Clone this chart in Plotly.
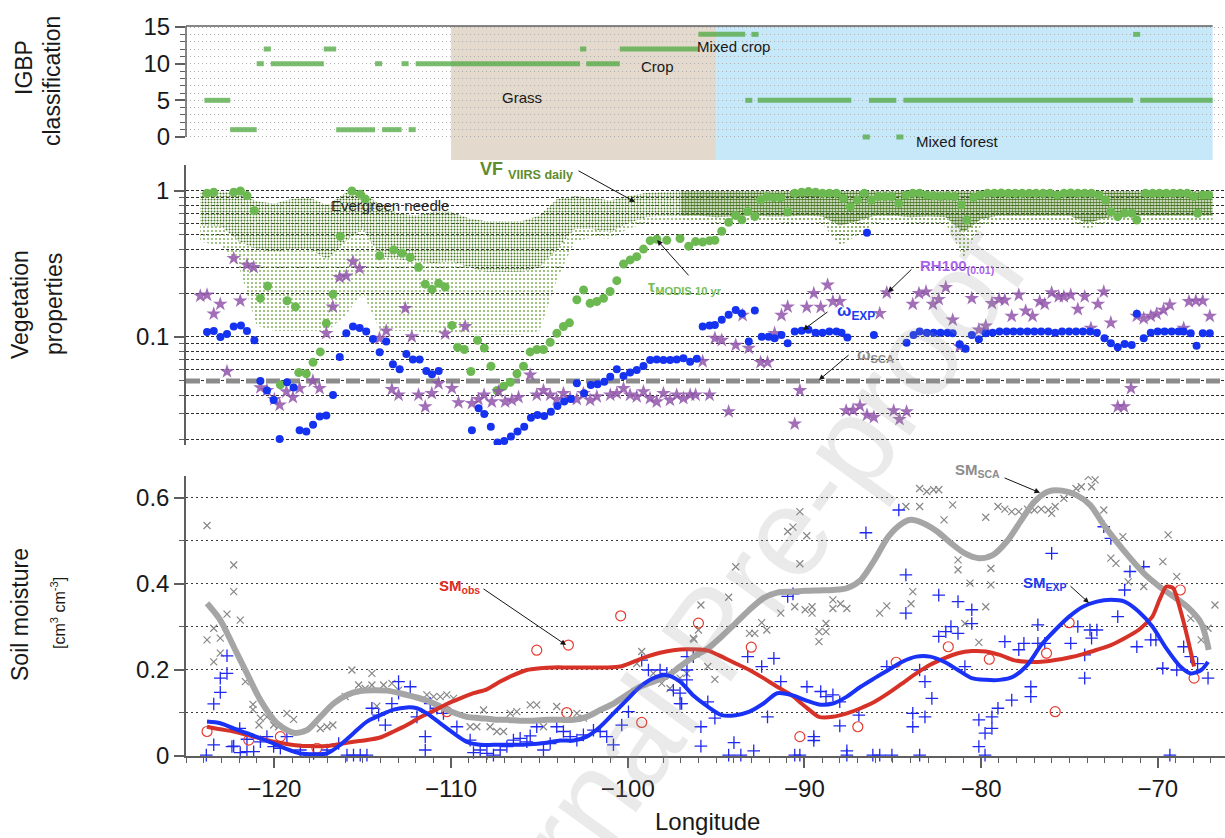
import math
import plotly.graph_objects as go

# ======================= DATA =======================
# --- IGBP classification segments (top panel) ---
igbp_start = [-123.96, -122.5, -121.0, -120.6, -120.2, -117.2, -116.5, -114.3, -113.9, -112.8,
              -112.4, -112.0, -102.7, -102.35, -100.45, -96.0, -93.35, -93.0, -92.65, -86.7,
              -86.35, -84.8, -84.4, -71.4, -71.0]
igbp_end = [-122.5, -121.0, -120.6, -120.2, -117.2, -116.5, -114.3, -113.9, -112.8, -112.4,
            -112.0, -102.7, -102.35, -100.45, -96.0, -93.35, -92.95, -92.6, -87.35, -86.3,
            -84.8, -84.4, -71.4, -71.0, -66.9]
igbp_class = [5, 1, 10, 12, 10, 12, 1, 10, 1, 10,
              1, 10, 12, 10, 12, 14, 5, 14, 5, 0,
              5, 0, 5, 14, 5]
zone_bounds = [-110.0, -95.0, -66.9]          # grass zone, forest zone
zone_colors = ["#e3d9cc", "#c6e8f9"]
igbp_labels = ["Mixed crop", "Crop", "Grass", "Mixed forest"]

# --- VIIRS daily vegetation fraction envelope (middle panel) ---
viirs_lon = [-124.2, -123, -122, -121, -120, -119, -118, -117, -116, -115,
             -114, -113, -112, -111, -110, -109, -108, -107, -106, -105,
             -104, -103, -102, -101, -100, -99, -98,
             -97, -96, -95, -94, -93, -92, -91, -90, -89, -88,
             -87, -86, -85, -84, -83, -82, -81, -80, -79, -78,
             -77, -76, -75, -74, -73, -72, -71, -70, -69, -68,
             -66.9]
viirs_hi = [0.99, 0.99, 0.97, 0.85, 0.82, 0.88, 0.90, 0.80, 0.97, 0.99,
            0.80, 0.70, 0.68, 0.72, 0.72, 0.65, 0.62, 0.62, 0.62, 0.68,
            0.88, 0.92, 0.90, 0.86, 0.92, 0.97, 0.98,
            1.0, 1.0, 1.0, 1.0, 1.0, 1.0, 1.0, 1.0, 1.0, 1.0,
            1.0, 1.0, 1.0, 1.0, 1.0, 1.0, 1.0, 1.0, 1.0, 1.0,
            1.0, 1.0, 1.0, 1.0, 1.0, 1.0, 1.0, 1.0, 1.0, 1.0,
            1.0]
viirs_core = [0.58, 0.57, 0.45, 0.40, 0.38, 0.40, 0.40, 0.34, 0.45, 0.55,
              0.36, 0.34, 0.33, 0.32, 0.33, 0.30, 0.28, 0.28, 0.28, 0.30,
              0.40, 0.55, 0.55, 0.52, 0.60, 0.66, 0.68,
              0.68, 0.68, 0.66, 0.67, 0.68, 0.67, 0.67, 0.68, 0.67, 0.58,
              0.62, 0.68, 0.68, 0.66, 0.67, 0.66, 0.52, 0.64, 0.68, 0.68,
              0.68, 0.68, 0.68, 0.60, 0.65, 0.68, 0.68, 0.68, 0.68, 0.68,
              0.68]
viirs_lo = [0.45, 0.42, 0.30, 0.12, 0.11, 0.11, 0.11, 0.11, 0.14, 0.20,
            0.11, 0.11, 0.11, 0.106, 0.106, 0.104, 0.104, 0.104, 0.104, 0.11,
            0.25, 0.45, 0.48, 0.47, 0.55, 0.60, 0.62,
            0.62, 0.62, 0.60, 0.62, 0.62, 0.62, 0.60, 0.62, 0.60, 0.42,
            0.50, 0.60, 0.62, 0.60, 0.60, 0.60, 0.35, 0.58, 0.62, 0.62,
            0.62, 0.62, 0.62, 0.55, 0.60, 0.62, 0.62, 0.62, 0.62, 0.62,
            0.62]
viirs_dense_from = -97   # east of this longitude the VIIRS cloud is dense

# --- MODIS 10-yr tau ---
modis_lon = [-123.81, -123.43, -122.30, -121.92, -121.55, -121.13, -120.79, -120.38, -119.66, -119.28,
             -118.81, -118.62, -118.19, -117.81, -117.40, -117.06, -116.68, -116.27, -115.61, -115.14,
             -114.85, -114.04, -113.25, -112.78, -112.31, -111.84, -111.46, -111.08, -110.70, -110.33,
             -109.95, -109.63, -109.25, -108.88, -108.50, -108.12, -107.74, -107.40, -107.03, -106.65,
             -106.27, -105.90, -105.52, -105.14, -104.77, -104.39, -104.01, -103.64, -103.30, -102.88,
             -102.50, -102.13, -101.75, -101.37, -101.00, -100.62, -100.24, -99.86, -99.49, -99.11,
             -98.73, -98.35, -97.79, -97.04, -96.55, -96.16, -95.76, -95.37, -95.07, -94.68,
             -94.29, -93.90, -93.54, -93.21, -92.81, -92.48, -92.13, -91.73, -91.34, -90.95,
             -90.55, -90.16, -89.77, -89.37, -88.98, -88.59, -88.19, -87.80, -87.41, -87.01,
             -86.62, -86.23, -85.83, -85.44, -85.05, -84.66, -84.26, -83.87, -83.48, -83.08,
             -82.69, -82.30, -81.90, -81.51, -81.12, -80.82, -80.43, -80.04, -79.64, -79.25,
             -78.86, -78.46, -78.07, -77.68, -77.28, -76.89, -76.50, -76.10, -75.71, -75.32,
             -74.93, -74.53, -74.14, -73.75, -73.35, -72.96, -72.66, -72.27, -71.88, -71.48,
             -71.19, -70.70, -70.30, -69.91, -69.52, -69.13, -68.73, -68.34, -67.95, -67.75,
             -67.46, -67.12]
modis_val = [0.964, 0.98, 0.98, 1.0, 0.93, 0.733, 0.184, 0.223, 0.047, 0.177,
             0.161, 0.057, 0.056, 0.067, 0.079, 0.124, 0.196, 0.49, 1.0, 0.95,
             0.88, 0.36, 0.395, 0.375, 0.35, 0.30, 0.23, 0.212, 0.233, 0.22,
             0.12, 0.085, 0.082, 0.058, 0.095, 0.084, 0.063, 0.043, 0.046, 0.049,
             0.056, 0.063, 0.079, 0.082, 0.082, 0.092, 0.106, 0.118, 0.125, 0.18,
             0.21, 0.17, 0.175, 0.184, 0.205, 0.243, 0.316, 0.337, 0.355, 0.40,
             0.457, 0.467, 0.46, 0.473, 0.419, 0.45, 0.447, 0.457, 0.46, 0.53,
             0.61, 0.68, 0.635, 0.725, 0.67, 0.87, 0.914, 0.90, 0.90, 0.72,
             0.964, 0.98, 0.99, 0.98, 0.964, 0.964, 0.964, 0.891, 0.781, 0.868,
             0.964, 0.868, 0.915, 0.915, 0.915, 0.823, 0.939, 0.964, 0.964, 0.939,
             0.925, 0.915, 0.925, 0.915, 0.802, 0.633, 0.905, 0.939, 0.964, 0.964,
             0.97, 0.964, 0.964, 0.964, 0.964, 0.964, 0.964, 0.964, 0.939, 0.964,
             0.97, 0.964, 0.964, 0.964, 0.939, 0.868, 0.722, 0.667, 0.703, 0.703,
             0.633, 0.964, 0.964, 0.964, 0.964, 0.964, 0.964, 0.964, 0.915, 0.703,
             0.939, 0.939]

# --- omega EXP ---
wexp_lon = [-123.81, -123.43, -123.05, -122.68, -122.30, -121.89, -121.55, -121.13,
            -120.79, -120.42, -120.04, -119.70, -119.28, -118.91, -118.57, -118.19, -117.81, -117.43,
            -117.06, -116.68, -116.30, -115.93, -115.55, -115.17, -114.80, -114.42, -114.04, -113.67,
            -113.29, -112.91, -112.53, -112.16, -111.78, -111.40, -111.08, -110.70,
            -108.82, -108.44, -108.12, -107.75, -107.37, -106.99, -106.61, -106.24, -105.86, -105.48,
            -105.11, -104.73, -104.35, -103.98, -103.60, -103.22, -102.88, -102.47, -102.09, -101.71,
            -101.33, -100.99, -100.62, -100.24, -99.87, -99.49, -99.11, -98.73, -98.36, -97.98,
            -97.60, -97.23, -96.85, -96.47, -96.09,
            -95.76, -95.37, -95.07, -94.68, -94.29, -93.89, -93.54, -93.15, -92.81, -92.42,
            -92.03, -91.69, -91.30, -90.95, -90.55, -90.16, -89.77, -89.37, -88.98, -88.59,
            -88.19, -87.90, -87.57, -86.46, -86.07, -84.22, -83.83, -83.48, -83.08, -82.69,
            -82.30, -81.90, -81.61, -81.22, -80.88, -80.53, -80.13, -79.74,
            -79.35, -78.96, -78.56, -78.17, -77.78, -77.38, -76.99, -76.60, -76.20, -75.81,
            -75.42, -75.02, -74.63, -74.24, -73.84, -73.45,
            -73.02, -72.66, -72.27, -71.88, -71.48, -71.19, -70.80, -70.40, -70.01, -69.62,
            -69.22, -68.83, -68.54, -68.14, -67.81, -67.46, -67.06]
wexp_val = [0.108, 0.110, 0.100, 0.105, 0.118, 0.120, 0.110, 0.095,
            0.050, 0.043, 0.037, 0.020, 0.049, 0.045, 0.023, 0.0225, 0.025, 0.0285,
            0.029, 0.040, 0.073, 0.106, 0.118, 0.115, 0.109, 0.097, 0.0785, 0.093,
            0.065, 0.060, 0.0765, 0.070, 0.070, 0.0585, 0.0555, 0.0585,
            0.023, 0.0325, 0.0297, 0.0243, 0.0189, 0.0194, 0.0208, 0.0225, 0.0243, 0.028,
            0.0292, 0.0288, 0.0308, 0.0337, 0.0361, 0.0376, 0.0482, 0.0411, 0.0469, 0.0474,
            0.0494, 0.0535, 0.0601, 0.0541, 0.057, 0.0594, 0.0633, 0.0696, 0.070, 0.0696,
            0.0696, 0.070, 0.0715, 0.0677, 0.0708,
            0.118, 0.120, 0.121, 0.131, 0.142, 0.153, 0.145, 0.093, 0.152, 0.1005,
            0.1005, 0.098, 0.103, 0.0905, 0.109, 0.1105, 0.112, 0.107, 0.107, 0.109,
            0.109, 0.107, 0.099, 0.518, 0.103, 0.0914, 0.103, 0.109, 0.107, 0.107,
            0.107, 0.107, 0.106, 0.089, 0.083, 0.103, 0.0964, 0.106,
            0.107, 0.109, 0.109, 0.109, 0.109, 0.109, 0.109, 0.109, 0.109, 0.107,
            0.109, 0.109, 0.109, 0.109, 0.109, 0.107,
            0.098, 0.0905, 0.085, 0.0895, 0.088, 0.144, 0.098, 0.107, 0.109, 0.109,
            0.109, 0.109, 0.109, 0.106, 0.087, 0.106, 0.106]

# --- RH100 (0.01) ---
rh_lon = [-124.19, -123.81, -123.43, -123.06, -122.68, -122.30, -121.93, -121.55, -121.17, -120.79,
          -120.42, -120.00, -119.70, -119.32, -118.95, -118.57, -117.82, -117.44, -117.06, -116.69,
          -116.31, -115.93, -115.55, -115.18, -114.05, -113.67, -113.35, -112.97, -112.59, -112.22,
          -111.84, -111.46, -111.09, -110.71, -110.33, -109.95, -109.58, -109.20, -108.82, -108.45,
          -108.13, -107.69, -107.31, -106.94, -106.56, -106.18, -105.52, -105.15, -104.77, -104.39,
          -104.02, -103.64, -103.26, -102.88, -102.51, -102.13, -101.75, -100.99, -100.62, -100.24,
          -99.87, -99.49, -99.11, -98.74, -98.36, -97.98, -97.61, -97.23, -96.85, -96.47,
          -96.16, -95.76, -95.37, -95.07, -94.68, -94.29, -93.89, -93.50, -93.15, -92.48,
          -92.09, -91.69, -91.30, -90.95, -90.55, -90.26, -89.87, -89.47, -89.08, -88.69,
          -88.39, -88.00, -87.64, -87.25, -86.86, -86.46, -86.07, -85.74, -85.34, -84.95,
          -84.62, -84.22, -83.87, -83.52, -83.12, -82.73, -82.40, -82.00, -81.61, -81.22,
          -80.53, -80.13, -79.74, -79.39, -78.99, -78.66, -78.27, -77.87, -77.48, -77.09,
          -76.69, -76.40, -76.01, -75.61, -75.32, -74.93, -74.53, -74.14, -73.79, -73.39,
          -73.06, -72.66, -72.27, -71.92, -71.52, -71.19, -70.80, -70.40, -70.07, -69.68,
          -69.32, -68.54, -68.24, -67.85, -67.46, -67.06]
rh_val = [0.191, 0.194, 0.144, 0.168, 0.058, 0.346, 0.177, 0.311, 0.300, 0.045,
          0.043, 0.0374, 0.0342, 0.0422, 0.0386, 0.0445, 0.050, 0.0445, 0.106, 0.161,
          0.256, 0.262, 0.328, 0.295, 0.098, 0.110, 0.0438, 0.0401, 0.157, 0.1005,
          0.0401, 0.0333, 0.0411, 0.048, 0.105, 0.0445, 0.0355, 0.118, 0.0351, 0.0374,
          0.0401, 0.036, 0.0422, 0.036, 0.037, 0.0386, 0.055, 0.0401, 0.043, 0.0401,
          0.0374, 0.0411, 0.038, 0.0374, 0.0411, 0.037, 0.039, 0.0401, 0.0411, 0.0445,
          0.0401, 0.039, 0.0422, 0.038, 0.036, 0.0411, 0.037, 0.0401, 0.038, 0.0401,
          0.0401, 0.068, 0.0401, 0.098, 0.095, 0.0308, 0.088, 0.141, 0.084, 0.067,
          0.067, 0.106, 0.141, 0.161, 0.0254, 0.043, 0.160, 0.199, 0.160, 0.227,
          0.175, 0.175, 0.0313, 0.0316, 0.0337, 0.0292, 0.0282, 0.145, 0.201, 0.0313,
          0.0273, 0.0308, 0.168, 0.199, 0.204, 0.168, 0.181, 0.219, 0.131, 0.086,
          0.184, 0.112, 0.119, 0.170, 0.181, 0.179, 0.139, 0.194, 0.151, 0.139,
          0.175, 0.168, 0.201, 0.189, 0.189, 0.194, 0.155, 0.189, 0.115, 0.168,
          0.204, 0.125, 0.0333, 0.0333, 0.0445, 0.139, 0.134, 0.139, 0.144, 0.153,
          0.166, 0.115, 0.175, 0.177, 0.177, 0.139]

wsca_value = 0.05

# --- Soil moisture smoothed lines ---
sm_sca_lon = [-123.81, -123.06, -122.30, -121.55, -120.79, -119.85, -118.91, -118.16, -117.40, -116.65,
              -115.89, -115.14, -114.39, -113.63, -112.88, -112.12, -111.37, -110.61, -109.86, -109.11,
              -108.35, -107.60, -106.84, -106.09, -105.33, -104.58, -103.83, -103.07, -102.32, -101.56,
              -100.81, -100.06, -99.30, -98.55, -97.79, -97.04, -96.27, -95.47, -94.68, -93.89,
              -93.11, -92.32, -91.54, -90.75, -89.96, -89.18, -88.39, -87.60, -86.82, -86.03,
              -85.25, -84.46, -83.97, -83.28, -82.49, -81.71, -80.92, -80.13, -79.35, -78.56,
              -77.78, -76.99, -76.20, -75.42, -74.63, -73.84, -73.06, -72.27, -71.48, -70.70,
              -69.91, -69.13, -68.34, -67.55, -67.12]
sm_sca_val = [0.355, 0.316, 0.254, 0.192, 0.130, 0.076, 0.054, 0.060, 0.091, 0.122,
              0.142, 0.151, 0.153, 0.152, 0.146, 0.138, 0.129, 0.115, 0.101, 0.091,
              0.088, 0.085, 0.084, 0.082, 0.082, 0.084, 0.084, 0.084, 0.091, 0.107,
              0.122, 0.142, 0.161, 0.173, 0.185, 0.208, 0.231, 0.250, 0.278, 0.309,
              0.340, 0.367, 0.380, 0.382, 0.384, 0.385, 0.386, 0.390, 0.409, 0.456,
              0.510, 0.541, 0.549, 0.541, 0.522, 0.495, 0.471, 0.460, 0.467, 0.498,
              0.545, 0.591, 0.615, 0.617, 0.607, 0.584, 0.537, 0.495, 0.456, 0.421,
              0.394, 0.371, 0.347, 0.309, 0.247]

sm_exp_lon = [-123.81, -123.06, -122.30, -121.55, -120.79, -120.04, -119.29, -118.53, -117.78, -117.02,
              -116.27, -115.52, -114.76, -114.01, -113.25, -112.50, -111.93, -111.37, -110.61, -109.86,
              -109.11, -108.35, -107.60, -106.84, -106.09, -105.33, -104.58, -103.83, -103.07, -102.32,
              -101.56, -100.81, -100.06, -99.30, -98.55, -97.79, -97.04, -96.27, -95.47, -94.68,
              -93.89, -93.11, -92.32, -91.54, -90.75, -89.96, -89.18, -88.39, -87.60, -86.82,
              -86.03, -85.25, -84.46, -83.67, -82.89, -82.10, -81.31, -80.53, -79.74, -78.95,
              -78.17, -77.38, -76.60, -75.81, -75.02, -74.24, -73.45, -72.66, -71.88, -71.09,
              -70.31, -69.52, -68.73, -68.14, -67.55, -67.16]
sm_exp_val = [0.080, 0.076, 0.064, 0.053, 0.041, 0.029, 0.016, 0.006, 0.004, 0.006,
              0.026, 0.053, 0.080, 0.095, 0.108, 0.113, 0.111, 0.099, 0.076, 0.053,
              0.033, 0.026, 0.026, 0.026, 0.026, 0.028, 0.031, 0.036, 0.036, 0.045,
              0.068, 0.099, 0.130, 0.161, 0.181, 0.188, 0.173, 0.140, 0.115, 0.095,
              0.095, 0.103, 0.122, 0.146, 0.142, 0.130, 0.120, 0.122, 0.138, 0.161,
              0.181, 0.200, 0.219, 0.231, 0.231, 0.219, 0.200, 0.181, 0.177, 0.177,
              0.185, 0.212, 0.258, 0.293, 0.324, 0.347, 0.359, 0.363, 0.359, 0.336,
              0.301, 0.250, 0.208, 0.192, 0.200, 0.219]

sm_obs_lon = [-123.81, -123.06, -122.30, -121.55, -120.79, -120.04, -119.29, -118.53, -117.78, -117.02,
              -116.27, -115.52, -114.76, -114.01, -113.25, -112.50, -111.75, -110.99, -110.24, -109.48,
              -108.73, -107.97, -107.22, -106.47, -105.71, -104.96, -104.20, -103.45, -102.69, -101.94,
              -101.19, -100.43, -99.68, -98.92, -98.17, -97.42, -96.66, -95.47, -94.68, -93.89,
              -93.11, -92.32, -91.54, -90.75, -89.96, -89.18, -88.39, -87.60, -86.82, -86.03,
              -85.25, -84.46, -83.67, -82.89, -82.10, -81.31, -80.53, -79.74, -78.95, -78.17,
              -77.38, -76.60, -75.81, -75.02, -74.24, -73.45, -72.66, -71.88, -71.09, -70.31,
              -69.91, -69.52, -69.13, -68.73, -68.34, -67.95]
sm_obs_val = [0.068, 0.062, 0.057, 0.049, 0.041, 0.033, 0.028, 0.024, 0.023, 0.023,
              0.028, 0.033, 0.037, 0.043, 0.057, 0.072, 0.090, 0.105, 0.121, 0.134,
              0.146, 0.155, 0.173, 0.188, 0.200, 0.204, 0.206, 0.206, 0.206, 0.206,
              0.206, 0.208, 0.219, 0.231, 0.240, 0.246, 0.248, 0.245, 0.231, 0.215,
              0.200, 0.181, 0.161, 0.142, 0.115, 0.091, 0.091, 0.099, 0.111, 0.126,
              0.146, 0.169, 0.192, 0.212, 0.227, 0.239, 0.244, 0.243, 0.235, 0.223,
              0.219, 0.219, 0.223, 0.229, 0.237, 0.247, 0.258, 0.274, 0.293, 0.324,
              0.363, 0.394, 0.390, 0.340, 0.278, 0.208]

# --- Soil moisture point values ---
obs_pts_lon = [-123.81, -121.45, -119.66, -117.59, -110.24, -105.15, -103.36, -103.45, -100.40, -99.21,
               -96.00, -93.01, -90.26, -86.98, -84.81, -81.86, -79.54, -76.30, -75.81, -75.02,
               -68.73, -67.95]
obs_pts_val = [0.057, 0.037, 0.045, 0.018, 0.103, 0.246, 0.258, 0.101, 0.326, 0.078,
               0.309, 0.253, 0.045, 0.068, 0.218, 0.254, 0.225, 0.239, 0.103, 0.310,
               0.386, 0.181]

sca_pts_lon = [-123.81, -123.43, -123.81, -123.06, -123.43, -123.06, -122.68, -122.30, -122.30, -121.93,
               -121.64, -121.21, -121.21, -120.79, -120.87, -120.42, -120.04, -119.76, -119.29, -118.91,
               -117.40, -117.02, -116.69, -115.99, -115.61, -115.23, -114.86, -114.48, -114.48, -114.20,
               -113.82, -113.35, -112.97, -111.37, -110.99, -110.61, -110.24, -109.86, -108.92, -108.54,
               -108.16, -107.79, -107.41, -107.03, -106.65, -106.28, -105.52, -105.15, -104.77, -104.02,
               -102.88, -102.51, -99.49, -99.21, -98.55, -98.08, -97.61, -97.04, -96.66, -96.29,
               -96.00,
               -96.25, -95.86, -95.47, -95.07, -94.29, -93.89, -93.11, -92.81, -92.42, -92.13,
               -91.34, -90.95, -90.65, -90.26, -90.26, -89.87, -90.55, -89.96, -89.57, -89.57,
               -89.18, -89.18, -88.78, -88.78, -88.39, -88.39, -87.96, -87.60, -85.74, -85.34,
               -84.26, -83.97, -83.87, -83.48, -83.08, -82.69, -82.40, -83.48, -82.10, -81.61,
               -81.31, -81.31, -80.92, -80.63, -80.13, -79.74, -79.74, -79.45, -79.45, -79.05,
               -78.66, -78.27, -77.87, -77.38, -76.99, -76.60, -76.20, -75.81, -76.01, -75.32,
               -74.63, -74.33, -73.94, -73.55, -73.75, -73.06, -72.66, -72.37, -71.98, -71.68,
               -70.80, -69.72, -69.42, -68.93, -68.14, -67.55, -67.16, -66.77]
sca_pts_val = [0.536, 0.297, 0.270, 0.274, 0.219, 0.239, 0.330, 0.444, 0.382, 0.316,
               0.173, 0.120, 0.108, 0.088, 0.072, 0.091, 0.072, 0.068, 0.099, 0.085,
               0.064, 0.068, 0.072, 0.138, 0.200, 0.165, 0.157, 0.192, 0.165, 0.116,
               0.165, 0.169, 0.153, 0.142, 0.138, 0.138, 0.142, 0.134, 0.068, 0.068,
               0.107, 0.068, 0.057, 0.057, 0.099, 0.103, 0.119, 0.119, 0.068, 0.115,
               0.099, 0.088, 0.215, 0.243, 0.192, 0.169, 0.157, 0.181, 0.192, 0.274,
               0.293,
               0.271, 0.351, 0.208, 0.178, 0.369, 0.440, 0.285, 0.285, 0.310, 0.293,
               0.332, 0.522, 0.532, 0.568, 0.447, 0.512, 0.347, 0.340, 0.347, 0.332,
               0.266, 0.289, 0.289, 0.308, 0.343, 0.363, 0.354, 0.343, 0.332, 0.349,
               0.580, 0.354, 0.382, 0.622, 0.615, 0.619, 0.619, 0.580, 0.549, 0.584,
               0.456, 0.433, 0.308, 0.402, 0.264, 0.347, 0.555, 0.436, 0.398, 0.580,
               0.574, 0.568, 0.568, 0.574, 0.572, 0.574, 0.572, 0.580, 0.564, 0.599,
               0.622, 0.626, 0.650, 0.642, 0.626, 0.572, 0.460, 0.448, 0.510, 0.405,
               0.394, 0.452, 0.514, 0.417, 0.320, 0.270, 0.297, 0.351]

exp_pts_lon = [-123.85, -123.43, -123.43, -123.06, -123.06, -122.68, -122.68, -122.40, -122.30, -121.96,
               -121.93, -121.55, -121.55, -121.17, -120.79, -120.42, -120.04, -119.66, -119.29, -118.53,
               -117.78, -117.02, -116.36, -115.89, -115.52, -115.14, -114.76, -114.48, -114.10, -113.72,
               -113.35, -112.97, -112.97, -112.31, -111.93, -111.46, -111.46, -111.18, -110.80, -110.43,
               -109.67, -108.92, -108.73, -108.35, -107.97, -107.60, -107.22, -106.84, -106.47, -106.09,
               -105.71, -105.52, -105.15, -104.77, -104.39, -104.02, -103.64, -103.26, -102.88, -102.51,
               -101.94, -101.56, -101.19, -100.81, -100.34, -99.96, -99.21, -98.83, -98.17, -97.79,
               -97.42, -97.04, -96.95, -96.66, -96.29,
               -97.04, -96.65, -96.65, -95.86, -95.86, -95.47, -95.07, -94.29, -93.99, -93.60,
               -93.21, -92.87, -92.42, -92.09, -91.73, -91.34, -90.95, -90.65, -90.55, -90.26,
               -89.86, -89.47, -89.47, -89.08, -88.78, -88.39, -88.00, -88.00, -87.60, -87.60,
               -86.92, -86.52, -86.13, -85.74, -85.34, -85.05, -84.66, -84.26, -84.26, -83.87,
               -83.87, -83.48, -83.48, -83.18, -83.18, -82.79, -82.40, -82.40, -82.00, -81.71,
               -81.31, -81.31, -80.92, -80.53, -80.53, -80.13, -80.13, -79.78, -79.78, -79.39,
               -79.39, -79.05, -78.66, -78.27, -77.87, -77.58, -77.19, -77.19, -76.79, -76.79,
               -76.40, -76.01, -74.93, -74.53, -74.14, -74.14, -73.84, -73.75, -73.45, -73.06,
               -72.66, -72.27, -71.88, -71.58, -71.19, -70.80, -70.40, -70.11, -69.72, -69.32,
               -68.93, -68.54, -68.14, -67.75, -67.16]
exp_pts_val = [0.002, 0.026, 0.121, 0.148, 0.181, 0.192, 0.233, 0.022, 0.023, 0.064,
               0.008, 0.010, 0.039, 0.010, 0.033, 0.045, 0.022, 0.018, 0.045, 0.014,
               0.006, 0.014, 0.029, 0.002, 0.002, 0.002, 0.002, 0.111, 0.095, 0.072,
               0.122, 0.173, 0.146, 0.161, 0.091, 0.045, 0.014, 0.122, 0.111, 0.099,
               0.068, 0.037, 0.008, 0.014, 0.006, 0.002, 0.014, 0.022, 0.037, 0.041,
               0.033, 0.047, 0.068, 0.014, 0.029, 0.068, 0.057, 0.045, 0.037, 0.049,
               0.060, 0.057, 0.045, 0.026, 0.072, 0.103, 0.223, 0.200, 0.200, 0.192,
               0.153, 0.146, 0.122, 0.177, 0.231,
               0.122, 0.231, 0.200, 0.068, 0.023, 0.126, 0.088, 0.002, 0.031, 0.002,
               0.231, 0.012, 0.208, 0.091, 0.227, 0.173, 0.371, 0.377, 0.002, 0.002,
               0.161, 0.045, 0.036, 0.150, 0.138, 0.142, 0.126, 0.070, 0.012, 0.002,
               0.095, 0.519, 0.002, 0.002, 0.208, 0.002, 0.572, 0.421, 0.332, 0.099,
               0.068, 0.002, 0.200, 0.173, 0.091, 0.134, 0.374, 0.278, 0.289, 0.301,
               0.285, 0.359, 0.208, 0.340, 0.308, 0.022, 0.084, 0.053, 0.002, 0.064,
               0.091, 0.111, 0.266, 0.130, 0.247, 0.262, 0.161, 0.138, 0.305, 0.262,
               0.262, 0.471, 0.262, 0.301, 0.235, 0.181, 0.293, 0.274, 0.293, 0.533,
               0.506, 0.324, 0.386, 0.429, 0.254, 0.440, 0.270, 0.270, 0.204, 0.002,
               0.200, 0.254, 0.231, 0.215, 0.181]

x_ticks = [-120, -110, -100, -90, -80, -70]

# ======================= LAYOUT CONSTANTS =======================
W, H = 1225, 838
X_RANGE = [-125.0, -66.2]
XDOM = [186 / W, 1.0]
Y_TOP = [1 - 160 / H, 1 - 26 / H]
Y_MID = [1 - 445 / H, 1 - 165 / H]
Y_BOT = [1 - 756 / H, 1 - 476 / H]
FONT = "Liberation Sans, Arial, Helvetica, sans-serif"
AXC = "rgb(95,95,95)"
TXT = "rgb(25,25,25)"
L = math.log10

fig = go.Figure()

# ---------- top panel: IGBP segments ----------
seg_x, seg_y = [], []
for s, e, c in zip(igbp_start, igbp_end, igbp_class):
    seg_x += [s, e, None]
    seg_y += [c, c, None]
fig.add_trace(go.Scatter(x=seg_x, y=seg_y, mode="lines", xaxis="x", yaxis="y",
                         line=dict(color="rgba(85,170,70,0.78)", width=5), hoverinfo="skip"))

# ---------- middle panel: VIIRS cloud as dotted bands ----------
def viirs_band(lon, lo, core, hi, light, dark):
    fig.add_trace(go.Scatter(x=lon, y=lo, mode="lines", xaxis="x2", yaxis="y2",
                             line=dict(width=0, color="rgba(0,0,0,0)"), hoverinfo="skip"))
    fig.add_trace(go.Scatter(x=lon, y=core, mode="lines", xaxis="x2", yaxis="y2",
                             line=dict(width=0, color="rgba(0,0,0,0)"), fill="tonexty",
                             fillcolor="rgba(0,0,0,0)",
                             fillpattern=dict(shape=".", fgcolor="rgb(115,165,70)", bgcolor="rgba(0,0,0,0)",
                                              size=light[0], solidity=light[1], fillmode="replace"),
                             hoverinfo="skip"))
    fig.add_trace(go.Scatter(x=lon, y=hi, mode="lines", xaxis="x2", yaxis="y2",
                             line=dict(width=0, color="rgba(0,0,0,0)"), fill="tonexty",
                             fillcolor="rgba(0,0,0,0)",
                             fillpattern=dict(shape=".", fgcolor="rgb(70,118,30)", bgcolor="rgba(0,0,0,0)",
                                              size=dark[0], solidity=dark[1], fillmode="replace"),
                             hoverinfo="skip"))

k = viirs_lon.index(viirs_dense_from)
viirs_band(viirs_lon[:k + 1], viirs_lo[:k + 1], viirs_core[:k + 1], viirs_hi[:k + 1], (4, 0.16), (3, 0.34))
viirs_band(viirs_lon[k:], viirs_lo[k:], viirs_core[k:], viirs_hi[k:], (4, 0.22), (3, 0.62))

fig.add_trace(go.Scatter(x=X_RANGE, y=[wsca_value, wsca_value], mode="lines", xaxis="x2", yaxis="y2",
                         line=dict(color="rgb(140,140,140)", width=5, dash="14px,6px"), hoverinfo="skip"))
fig.add_trace(go.Scatter(x=modis_lon, y=modis_val, mode="markers", xaxis="x2", yaxis="y2",
                         marker=dict(color="rgb(108,185,82)", size=9, line=dict(width=0))))
fig.add_trace(go.Scatter(x=rh_lon, y=rh_val, mode="markers", xaxis="x2", yaxis="y2",
                         marker=dict(symbol="star", color="rgba(145,85,170,0.85)", size=11, line=dict(width=0))))
fig.add_trace(go.Scatter(x=wexp_lon, y=wexp_val, mode="markers", xaxis="x2", yaxis="y2",
                         marker=dict(color="rgb(20,50,240)", size=8, line=dict(width=0))))

# ---------- bottom panel ----------
fig.add_trace(go.Scatter(x=sca_pts_lon, y=sca_pts_val, mode="markers", xaxis="x3", yaxis="y3",
                         marker=dict(symbol="x-thin", size=7, line=dict(width=1.2, color="rgb(135,135,135)"))))
fig.add_trace(go.Scatter(x=exp_pts_lon, y=exp_pts_val, mode="markers", xaxis="x3", yaxis="y3",
                         cliponaxis=False,
                         marker=dict(symbol="cross-thin", size=9, line=dict(width=1.3, color="rgb(30,40,240)"))))
fig.add_trace(go.Scatter(x=obs_pts_lon, y=obs_pts_val, mode="markers", xaxis="x3", yaxis="y3",
                         marker=dict(symbol="circle-open", size=10, color="rgb(230,60,50)", line=dict(width=1.2))))
fig.add_trace(go.Scatter(x=sm_sca_lon, y=sm_sca_val, mode="lines", xaxis="x3", yaxis="y3",
                         line=dict(color="rgb(165,165,165)", width=6, shape="spline", smoothing=0.8)))
fig.add_trace(go.Scatter(x=sm_obs_lon, y=sm_obs_val, mode="lines", xaxis="x3", yaxis="y3",
                         line=dict(color="rgb(215,50,40)", width=4, shape="spline", smoothing=0.6)))
fig.add_trace(go.Scatter(x=sm_exp_lon, y=sm_exp_val, mode="lines", xaxis="x3", yaxis="y3",
                         line=dict(color="rgb(25,50,245)", width=4, shape="spline", smoothing=0.8)))

# ---------- shapes ----------
shapes = [
    dict(type="rect", xref="x", yref="y domain", x0=zone_bounds[0], x1=zone_bounds[1], y0=0, y1=1,
         fillcolor=zone_colors[0], line=dict(width=0), layer="below"),
    dict(type="rect", xref="x", yref="y domain", x0=zone_bounds[1], x1=zone_bounds[2], y0=0, y1=1,
         fillcolor=zone_colors[1], line=dict(width=0), layer="below"),
    dict(type="line", xref="x", yref="y domain", x0=X_RANGE[0], x1=zone_bounds[2], y0=1, y1=1,
         line=dict(color=AXC, width=1.5)),
    dict(type="line", xref="paper", yref="y", x0=XDOM[0], x1=XDOM[0], y0=0, y1=15.14,
         line=dict(color=AXC, width=1.5)),
]

# ---------- annotations ----------
ann = []
def txt(x, y, text, xref, yref, size=15, color=TXT, xanchor="left", angle=0):
    ann.append(dict(x=x, y=y, xref=xref, yref=yref, text=text, showarrow=False, xanchor=xanchor,
                    yanchor="middle", textangle=angle, font=dict(size=size, color=color, family=FONT)))

def arrow(x0, y0, x1, y1, xref, yref):
    ann.append(dict(x=x1, y=y1, ax=x0, ay=y0, xref=xref, yref=yref, axref=xref, ayref=yref,
                    text="", showarrow=True, arrowhead=2, arrowsize=1.1, arrowwidth=1,
                    arrowcolor="rgb(20,20,20)", standoff=0))

# top panel labels
txt(-96.19, 12.4, igbp_labels[0], "x", "y")
txt(-99.39, 9.55, igbp_labels[1], "x", "y")
txt(-107.23, 5.32, igbp_labels[2], "x", "y")
txt(-83.80, -0.68, igbp_labels[3], "x", "y")

# middle panel labels (log axis -> log10 coordinates)
txt(-108.47, L(1.371), "<b>VF <sub>VIIRS daily</sub></b>", "x2", "y2", size=18, color="rgb(95,140,45)")
arrow(-102.87, L(1.393), -99.59, L(0.841), "x2", "y2")
txt(-98.97, L(0.217), "<b>τ<sub>MODIS 10 yr</sub></b>", "x2", "y2", size=16, color="rgb(120,190,90)")
arrow(-96.48, L(0.258), -98.34, L(0.461), "x2", "y2")
txt(-83.57, L(0.306), "<b>RH100<sub>(0.01)</sub></b>", "x2", "y2", size=15, color="rgb(170,100,235)")
arrow(-83.86, L(0.297), -85.27, L(0.203), "x2", "y2")
txt(-88.27, L(0.148), "<b>ω<sub>EXP</sub></b>", "x2", "y2", size=17, color="rgb(30,60,240)")
arrow(-88.61, L(0.151), -90.08, L(0.1117), "x2", "y2")
txt(-87.14, L(0.0741), "<b>ω<sub>SCA</sub></b>", "x2", "y2", size=16, color="rgb(140,140,140)")
arrow(-87.42, L(0.0766), -89.18, L(0.0507), "x2", "y2")
txt(-113.45, L(0.80), "Evergreen needle", "x2", "y2", size=15, color="rgb(40,40,40)", xanchor="center")

# bottom panel labels
txt(-110.80, 0.393, "<b>SM<sub>obs</sub></b>", "x3", "y3", size=15, color="rgb(225,45,35)")
arrow(-108.25, 0.391, -103.49, 0.258, "x3", "y3")
txt(953 / W, 1 - 470 / H, "<b>SM<sub>SCA</sub></b>", "paper", "paper", size=15, color="rgb(140,140,140)")
arrow(-78.76, 0.648, -76.67, 0.612, "x3", "y3")
txt(-77.74, 0.402, "<b>SM<sub>EXP</sub></b>", "x3", "y3", size=15, color="rgb(30,60,240)")
arrow(-75.03, 0.398, -73.90, 0.356, "x3", "y3")

# axis titles
txt(24 / W, 1 - 68 / H, "IGBP", "paper", "paper", size=23, xanchor="center", angle=-90)
txt(52 / W, 1 - 81 / H, "classification", "paper", "paper", size=23, xanchor="center", angle=-90)
txt(20 / W, 1 - 305 / H, "Vegetation", "paper", "paper", size=23, xanchor="center", angle=-90)
txt(54 / W, 1 - 304 / H, "properties", "paper", "paper", size=23, xanchor="center", angle=-90)
txt(20 / W, 1 - 615 / H, "Soil moisture", "paper", "paper", size=23, xanchor="center", angle=-90)
txt(58 / W, 1 - 613 / H, "[cm<sup>3</sup> cm<sup>-3</sup>]", "paper", "paper", size=16, xanchor="center", angle=-90)
txt(707 / W, 1 - 821 / H, "Longitude", "paper", "paper", size=24, xanchor="center")

# watermark
ann.append(dict(x=712 / W, y=1 - 633 / H, xref="paper", yref="paper", text="Journal Pre-proof",
                showarrow=False, textangle=-54, xanchor="center", yanchor="middle",
                font=dict(size=125, color="rgba(150,150,150,0.2)", family=FONT)))

grid_top = dict(showgrid=True, gridcolor="rgb(175,175,175)", griddash="1px,3px", gridwidth=1)
grid_mid = dict(showgrid=True, gridcolor="rgb(45,45,45)", griddash="3px,2px", gridwidth=1)
grid_bot = dict(showgrid=True, gridcolor="rgb(60,60,60)", griddash="2px,3px", gridwidth=1)

fig.update_layout(
    width=W, height=H, autosize=False, margin=dict(l=0, r=0, t=0, b=0, pad=0, autoexpand=False),
    paper_bgcolor="white", plot_bgcolor="white", showlegend=False,
    font=dict(family=FONT, color=TXT, size=15),
    shapes=shapes, annotations=ann,
    xaxis=dict(domain=XDOM, range=X_RANGE, anchor="y", visible=False, showgrid=False, zeroline=False,
               automargin=False),
    xaxis2=dict(domain=XDOM, range=X_RANGE, anchor="y2", visible=False, showgrid=False, zeroline=False,
                automargin=False),
    xaxis3=dict(domain=XDOM, range=X_RANGE, anchor="y3", showgrid=False, zeroline=False, automargin=False,
                tickmode="array", tickvals=x_ticks, ticks="outside", ticklen=10, tickwidth=1.5,
                tickcolor=AXC, showline=True, linecolor=AXC, linewidth=1.5,
                tickfont=dict(size=24, color=TXT, family=FONT),
                minor=dict(dtick=1, tick0=0, ticks="outside", ticklen=5, tickwidth=1, tickcolor=AXC)),
    yaxis=dict(domain=Y_TOP, range=[-3.14, 15.14], anchor="x", zeroline=False, showline=False,
               automargin=False,
               tickmode="array", tickvals=[0, 5, 10, 15], ticks="outside", ticklen=10, tickwidth=1.5,
               tickcolor=AXC, tickfont=dict(size=24, color=TXT, family=FONT), **grid_top,
               minor=dict(tickmode="array", tickvals=list(range(1, 15)), ticks="outside", ticklen=5,
                          tickwidth=1, tickcolor=AXC, **grid_top)),
    yaxis2=dict(domain=Y_MID, type="log", range=[-1.74, 0.178], anchor="x2", zeroline=False,
                showline=True, linecolor=AXC, linewidth=1.5, automargin=False,
                tickmode="array", tickvals=[0.1, 1], ticktext=["0.1", "1"], ticks="outside", ticklen=10,
                tickwidth=1.5, tickcolor=AXC, tickfont=dict(size=24, color=TXT, family=FONT), **grid_mid,
                minor=dict(tickmode="array",
                           tickvals=[0.02, 0.03, 0.04, 0.05, 0.06, 0.07, 0.08, 0.09,
                                     0.2, 0.3, 0.4, 0.5, 0.6, 0.7, 0.8, 0.9],
                           ticks="outside", ticklen=5, tickwidth=1, tickcolor=AXC, **grid_mid)),
    yaxis3=dict(domain=Y_BOT, range=[0, 0.651], anchor="x3", zeroline=False,
                showline=True, linecolor=AXC, linewidth=1.5, automargin=False,
                tickmode="array", tickvals=[0, 0.2, 0.4, 0.6], ticktext=["0", "0.2", "0.4", "0.6"],
                ticks="outside", ticklen=10, tickwidth=1.5, tickcolor=AXC,
                tickfont=dict(size=24, color=TXT, family=FONT), **grid_bot,
                minor=dict(tickmode="array", tickvals=[0.1, 0.3, 0.5], ticks="outside", ticklen=5,
                           tickwidth=1, tickcolor=AXC, **grid_bot)),
)

fig.write_html("out.html")
